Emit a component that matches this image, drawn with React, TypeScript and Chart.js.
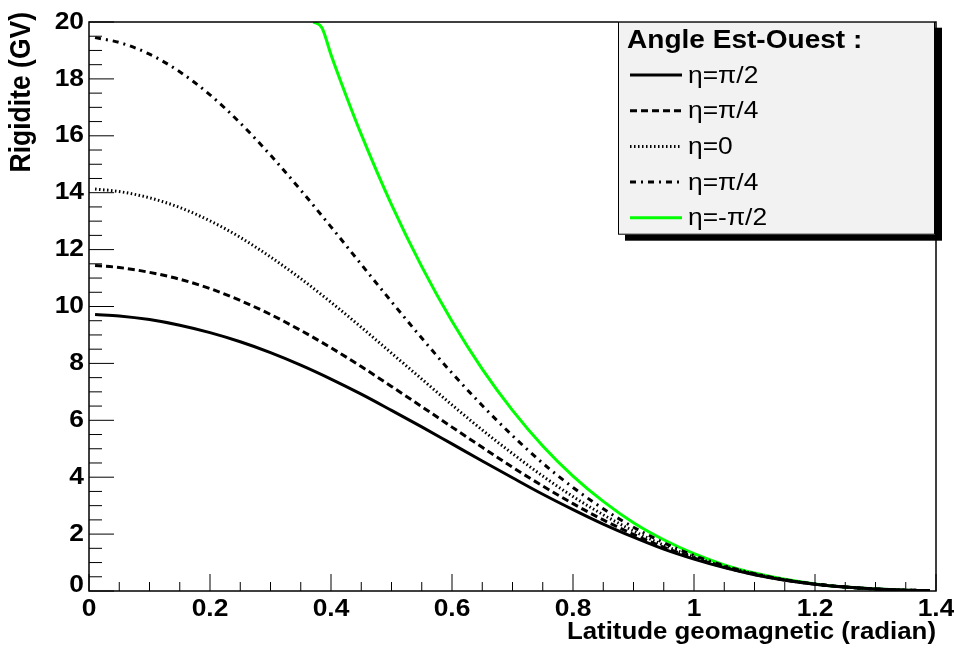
import React, { useEffect, useRef } from 'react';
import { Chart, registerables } from 'chart.js';

Chart.register(...registerables);

// ---- data ----
const latitude = [0.01, 0.05, 0.1, 0.15, 0.2, 0.25, 0.3, 0.35, 0.4, 0.45, 0.5, 0.55, 0.6, 0.65, 0.7, 0.75, 0.8, 0.85, 0.9, 0.95, 1.0, 1.05, 1.1, 1.15, 1.2, 1.25, 1.3, 1.35, 1.39];
const rigEtaPiOver2 = [9.72, 9.67, 9.54, 9.34, 9.08, 8.76, 8.38, 7.94, 7.45, 6.92, 6.35, 5.77, 5.17, 4.57, 3.98, 3.4, 2.86, 2.35, 1.89, 1.47, 1.12, 0.82, 0.57, 0.38, 0.24, 0.14, 0.07, 0.03, 0.015];
const rigEtaPiOver4 = [11.44, 11.37, 11.2, 10.96, 10.63, 10.21, 9.72, 9.16, 8.55, 7.89, 7.19, 6.48, 5.76, 5.05, 4.35, 3.69, 3.07, 2.5, 1.99, 1.54, 1.16, 0.84, 0.58, 0.39, 0.24, 0.14, 0.07, 0.03, 0.015];
const rigEtaZero = [14.13, 14.04, 13.82, 13.48, 13.01, 12.43, 11.74, 10.98, 10.15, 9.27, 8.36, 7.45, 6.54, 5.66, 4.83, 4.04, 3.32, 2.68, 2.11, 1.61, 1.2, 0.86, 0.6, 0.39, 0.24, 0.14, 0.07, 0.03, 0.015];
const rigEtaMinusPiOver4 = [19.45, 19.28, 18.87, 18.25, 17.44, 16.45, 15.32, 14.09, 12.8, 11.48, 10.17, 8.89, 7.66, 6.52, 5.46, 4.49, 3.64, 2.89, 2.24, 1.7, 1.25, 0.89, 0.61, 0.4, 0.25, 0.14, 0.07, 0.03, 0.015];
const latitudeWest = [0.371, 0.385, 0.4, 0.425, 0.45, 0.5, 0.55, 0.6, 0.65, 0.7, 0.75, 0.8, 0.85, 0.9, 0.95, 1.0, 1.05, 1.1, 1.15, 1.2, 1.25, 1.3, 1.35, 1.39];
const rigEtaMinusPiOver2 = [20.0, 19.8, 18.85, 17.41, 16.05, 13.58, 11.4, 9.48, 7.8, 6.35, 5.1, 4.04, 3.15, 2.4, 1.8, 1.31, 0.92, 0.63, 0.41, 0.25, 0.14, 0.07, 0.03, 0.015];

const xTickValues = [0, 0.2, 0.4, 0.6, 0.8, 1, 1.2, 1.4];
const xTickLabels = ['0', '0.2', '0.4', '0.6', '0.8', '1', '1.2', '1.4'];
const yTickValues = [0, 2, 4, 6, 8, 10, 12, 14, 16, 18, 20];
const yTickLabels = ['0', '2', '4', '6', '8', '10', '12', '14', '16', '18', '20'];
const xTitle = 'Latitude geomagnetic (radian)';
const yTitle = 'Rigidite (GV)';
const legendTitle = 'Angle Est-Ouest :';
const seriesLabels = ['η=π/2', 'η=π/4', 'η=0', 'η=π/4', 'η=-π/2'];

// ---- styles ----
const FONT = '"Liberation Sans", Arial, Helvetica, sans-serif';
const SX = 1.1;
const seriesStyles = [
  { color: '#000000', dash: [] as number[] },
  { color: '#000000', dash: [7, 4] },
  { color: '#000000', dash: [1.5, 2.5] },
  { color: '#000000', dash: [6, 5, 2, 5] },
  { color: '#00ff00', dash: [] as number[] },
];

function drawText(ctx: CanvasRenderingContext2D, text: string, x: number, y: number, font: string, align: CanvasTextAlign, baseline: CanvasTextBaseline, sx = SX) {
  ctx.save();
  ctx.translate(x, y);
  ctx.scale(sx, 1);
  ctx.font = font;
  ctx.textAlign = align;
  ctx.textBaseline = baseline;
  ctx.fillStyle = '#000';
  ctx.fillText(text, 0, 0);
  ctx.restore();
}

const rootStylePlugin = {
  id: 'rootStyle',
  afterDatasetsDraw(chart: any) {
    const { ctx, chartArea: a, scales } = chart;
    const xs = scales.x;
    const ys = scales.y;
    ctx.save();
    ctx.strokeStyle = '#000';
    // frame
    ctx.lineWidth = 1.5;
    ctx.strokeRect(a.left, a.top, a.right - a.left, a.bottom - a.top);
    ctx.lineWidth = 1;
    // x ticks (inside, upward)
    for (let i = 0; i < xTickValues.length; i++) {
      const v = xTickValues[i];
      const px = xs.getPixelForValue(v);
      ctx.beginPath();
      ctx.moveTo(px, a.bottom);
      ctx.lineTo(px, a.bottom - 17);
      ctx.stroke();
      if (i < xTickValues.length - 1) {
        const step = (xTickValues[i + 1] - v) / 4;
        for (let k = 1; k < 4; k++) {
          const mx = xs.getPixelForValue(v + k * step);
          ctx.beginPath();
          ctx.moveTo(mx, a.bottom);
          ctx.lineTo(mx, a.bottom - 9);
          ctx.stroke();
        }
      }
      drawText(ctx, xTickLabels[i], px, 616, `bold 24px ${FONT}`, 'center', 'alphabetic');
    }
    // y ticks (inside, rightward)
    for (let i = 0; i < yTickValues.length; i++) {
      const v = yTickValues[i];
      const py = ys.getPixelForValue(v);
      ctx.beginPath();
      ctx.moveTo(a.left, py);
      ctx.lineTo(a.left + 25, py);
      ctx.stroke();
      if (i < yTickValues.length - 1) {
        const step = (yTickValues[i + 1] - v) / 4;
        for (let k = 1; k < 4; k++) {
          const my = ys.getPixelForValue(v + k * step);
          ctx.beginPath();
          ctx.moveTo(a.left, my);
          ctx.lineTo(a.left + 13, my);
          ctx.stroke();
        }
      }
      const ly = v === 0 ? py - 6 : py;
      drawText(ctx, yTickLabels[i], 84, ly, `bold 24px ${FONT}`, 'right', 'middle');
    }
    // axis titles
    drawText(ctx, xTitle, a.right, 639, `bold 23.5px ${FONT}`, 'right', 'alphabetic');
    ctx.save();
    ctx.translate(22, 12);
    ctx.rotate(-Math.PI / 2);
    ctx.scale(1, SX);
    ctx.font = `bold 26.5px ${FONT}`;
    ctx.textAlign = 'right';
    ctx.textBaseline = 'middle';
    ctx.fillStyle = '#000';
    ctx.fillText(yTitle, 0, 0);
    ctx.restore();
    ctx.restore();
  },
  afterDraw(chart: any) {
    const { ctx } = chart;
    ctx.save();
    const bx = 618, by = 21.7, bw = 317, bh = 213;
    // shadow
    ctx.fillStyle = '#000';
    ctx.fillRect(bx + 7, by + 6, bw, bh);
    // box
    ctx.fillStyle = '#f2f2f2';
    ctx.fillRect(bx, by, bw, bh);
    ctx.strokeStyle = '#000';
    ctx.lineWidth = 1;
    ctx.strokeRect(bx + 0.5, by + 0.5, bw - 1, bh - 1);
    drawText(ctx, legendTitle, 627, 48, `bold 25.5px ${FONT}`, 'left', 'alphabetic');
    for (let i = 0; i < seriesLabels.length; i++) {
      const y = 75 + i * 35.7;
      const st = seriesStyles[i];
      ctx.save();
      ctx.strokeStyle = st.color;
      ctx.lineWidth = 3;
      ctx.lineCap = 'butt';
      ctx.setLineDash(st.dash);
      ctx.beginPath();
      ctx.moveTo(630, y);
      ctx.lineTo(682, y);
      ctx.stroke();
      ctx.restore();
      drawText(ctx, seriesLabels[i], 688, y + 1, `24px ${FONT}`, 'left', 'middle');
    }
    ctx.restore();
  },
};

export default function App() {
  const canvasRef = useRef<HTMLCanvasElement | null>(null);

  useEffect(() => {
    document.body.style.margin = '0';
    const canvas = canvasRef.current;
    if (!canvas) return;
    const seriesData = [
      latitude.map((x, i) => ({ x, y: rigEtaPiOver2[i] })),
      latitude.map((x, i) => ({ x, y: rigEtaPiOver4[i] })),
      latitude.map((x, i) => ({ x, y: rigEtaZero[i] })),
      latitude.map((x, i) => ({ x, y: rigEtaMinusPiOver4[i] })),
      latitudeWest.map((x, i) => ({ x, y: rigEtaMinusPiOver2[i] })),
    ];
    const chart = new Chart(canvas, {
      type: 'line',
      data: {
        datasets: seriesData.map((d, i) => ({
          label: seriesLabels[i],
          data: d,
          borderColor: seriesStyles[i].color,
          borderWidth: 3,
          borderDash: seriesStyles[i].dash,
          borderCapStyle: 'butt',
          fill: false,
          pointRadius: 0,
          cubicInterpolationMode: 'monotone',
        })),
      },
      options: {
        animation: false,
        responsive: false,
        maintainAspectRatio: false,
        devicePixelRatio: 1,
        layout: { padding: { left: 89, top: 22, right: 18, bottom: 58 } },
        scales: {
          x: { type: 'linear', min: 0, max: 1.4, display: false },
          y: { type: 'linear', min: 0, max: 20, display: false },
        },
        plugins: { legend: { display: false }, tooltip: { enabled: false } },
      },
      plugins: [rootStylePlugin],
    } as any);
    return () => chart.destroy();
  }, []);

  return (
    <div style={{ width: 954, height: 649, background: '#fff' }}>
      <canvas ref={canvasRef} width={954} height={649} style={{ display: 'block', width: 954, height: 649 }} />
    </div>
  );
}
